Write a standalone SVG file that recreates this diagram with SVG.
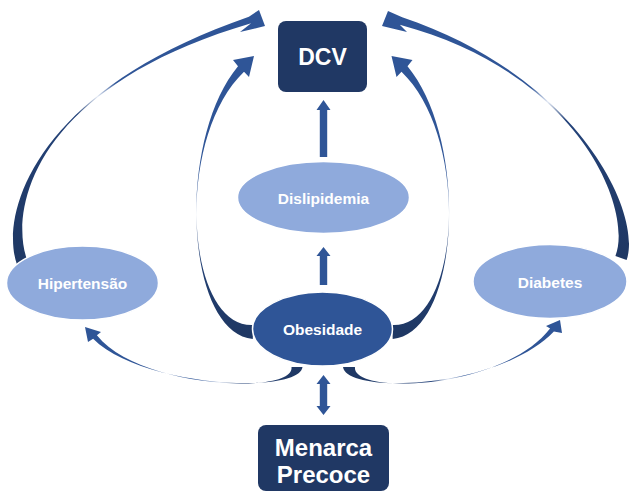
<svg xmlns="http://www.w3.org/2000/svg" width="630" height="492" viewBox="0 0 630 492">
<style>
.lbl{font-family:"Liberation Sans",Arial,sans-serif;font-weight:bold;fill:#ffffff;text-anchor:middle}
.big{font-size:24px}
.sm{font-size:15.5px}
.dark{fill:#203864}
.mid{fill:#2f5597;stroke:#ffffff;stroke-width:1.5}
.light{fill:#8faadc;stroke:#ffffff;stroke-width:1.5}
.st{fill:#2f5597}
</style>
<defs>
<linearGradient id="g1" gradientUnits="userSpaceOnUse" x1="22" y1="262" x2="255" y2="20">
<stop offset="0" stop-color="#1f3864"/><stop offset="0.43" stop-color="#24437a"/><stop offset="0.51" stop-color="#e3e9f4"/><stop offset="0.58" stop-color="#2f5597"/><stop offset="1" stop-color="#2f5597"/>
</linearGradient>
<linearGradient id="g2" gradientUnits="userSpaceOnUse" x1="253" y1="332" x2="250" y2="58">
<stop offset="0" stop-color="#1f3864"/><stop offset="0.36" stop-color="#24437a"/><stop offset="0.43" stop-color="#e3e9f4"/><stop offset="0.5" stop-color="#2f5597"/><stop offset="1" stop-color="#2f5597"/>
</linearGradient>
<linearGradient id="g3" gradientUnits="userSpaceOnUse" x1="621" y1="258" x2="395" y2="22">
<stop offset="0" stop-color="#1f3864"/><stop offset="0.42" stop-color="#24437a"/><stop offset="0.5" stop-color="#e3e9f4"/><stop offset="0.57" stop-color="#2f5597"/><stop offset="1" stop-color="#2f5597"/>
</linearGradient>
<linearGradient id="g5" gradientUnits="userSpaceOnUse" x1="297" y1="367" x2="90" y2="330">
<stop offset="0" stop-color="#1f3864"/><stop offset="0.27" stop-color="#24437a"/><stop offset="0.35" stop-color="#e3e9f4"/><stop offset="0.43" stop-color="#2f5597"/><stop offset="1" stop-color="#2f5597"/>
</linearGradient>
<linearGradient id="g6" gradientUnits="userSpaceOnUse" x1="349" y1="367" x2="555" y2="325">
<stop offset="0" stop-color="#1f3864"/><stop offset="0.37" stop-color="#24437a"/><stop offset="0.45" stop-color="#e3e9f4"/><stop offset="0.52" stop-color="#2f5597"/><stop offset="1" stop-color="#2f5597"/>
</linearGradient>
</defs>
<g id="connectors">
<path id="hip-dcv" fill="url(#g1)" d="M 16.8 263.9 C 0.3 216.7, 30.6 91.9, 248.9 16.7 L 259 10 L 265 26 L 240 32 L 251.1 23.3 C 29.4 88.1, 9.7 213.3, 27.2 260.1 Z"/>
<path id="obe-dcv-l" fill="url(#g2)" d="M 252.8 339 C 184.9 332, 176.1 141, 238 66.3 L 233 60 L 254 56 L 249 77 L 244 71.7 C 173.9 139, 185.1 328, 253.2 325 Z"/>
<path id="obe-dcv-r" fill="url(#g2)" transform="matrix(-1 0 0 1 645.5 0)" d="M 252.8 339 C 184.9 332, 176.1 141, 238 66.3 L 233 60 L 254 56 L 249 77 L 244 71.7 C 173.9 139, 185.1 328, 253.2 325 Z"/>
<path id="dia-dcv" fill="url(#g3)" d="M 626.6 260.1 C 642.7 213.7, 579.4 76.9, 402.2 17.2 L 388 11 L 382 26 L 407 32 L 399.8 24.8 C 580.6 73.1, 633.3 210.3, 615.4 255.9 Z"/>
<path id="obe-hip" fill="url(#g5)" d="M 302.5 367 C 299 395, 141.1 387, 93.1 338.7 L 88 342 L 85 327 L 101 332 L 96.9 335.3 C 138.9 389, 295 395, 291.5 367 Z"/>
<path id="obe-dia" fill="url(#g6)" d="M 343 367 C 347 395, 498.9 389, 553.9 331.6 L 562 333 L 560 320 L 546 326 L 550.1 328.4 C 501.1 391, 351 395, 355 367 Z"/>
<polygon id="dis-dcv" class="st" points="323.5,100 330.5,110 327.2,110 327.2,157 319.8,157 319.8,110 316.5,110"/>
<polygon id="obe-dis" class="st" points="323.5,247 330.5,256 327.2,256 327.2,285 319.8,285 319.8,256 316.5,256"/>
<polygon id="obe-men" class="st" points="323.5,375 330.5,384 327.2,384 327.2,406 330.5,406 323.5,415 316.5,406 319.8,406 319.8,384 316.5,384"/>
</g>
<g id="dcv">
<rect class="dark" x="278" y="21" width="89" height="71" rx="8"/>
<text class="lbl" x="322.5" y="65" font-size="23">DCV</text>
</g>
<g id="dislipidemia">
<ellipse class="light" cx="323.5" cy="197.5" rx="86" ry="36"/>
<text class="lbl sm" x="323.5" y="204">Dislipidemia</text>
</g>
<g id="hipertensao">
<ellipse class="light" cx="82.5" cy="283" rx="76" ry="37"/>
<text class="lbl sm" x="82.5" y="289">Hipertensão</text>
</g>
<g id="diabetes">
<ellipse class="light" cx="550" cy="281.5" rx="77" ry="37"/>
<text class="lbl sm" x="550" y="288">Diabetes</text>
</g>
<g id="obesidade">
<ellipse class="mid" cx="322.5" cy="329" rx="70" ry="37"/>
<text class="lbl sm" x="322.5" y="335">Obesidade</text>
</g>
<g id="menarca">
<rect class="dark" x="258" y="425" width="131" height="66" rx="8"/>
<text class="lbl big" x="323.5" y="456">Menarca</text>
<text class="lbl big" x="323.5" y="483">Precoce</text>
</g>
</svg>
